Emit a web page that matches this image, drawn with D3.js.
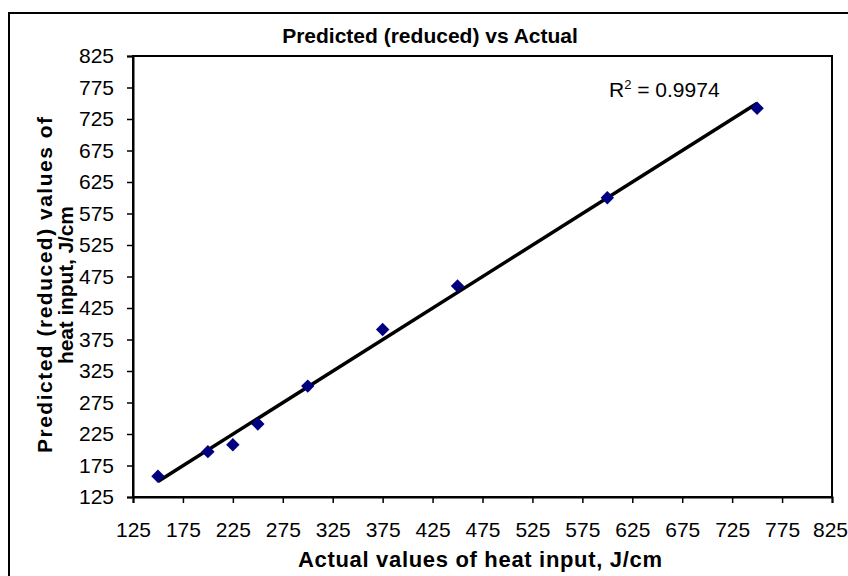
<!DOCTYPE html>
<html>
<head>
<meta charset="utf-8">
<script src="https://cdn.jsdelivr.net/npm/d3@7"></script>
<style>
  body { margin: 0; background: #fff; }
  text { font-family: Arial, "Liberation Sans", sans-serif; fill: #000; }
</style>
</head>
<body>
<div class="canvas"></div>
<script>
const width = 848;
const height = 576;

// Data
const actual = [150, 200, 225, 250, 300, 375, 450, 600, 750];
const predicted = [158, 197, 208, 241, 301, 391, 460, 600, 742];
const tickValues = d3.range(125, 826, 50);
const titleText = 'Predicted (reduced) vs Actual';
const xLabel = 'Actual values of heat input, J/cm';
const yLabel = ['Predicted (reduced) values of', 'heat input, J/cm'];
const r2Text = '0.9974';

const plot = { left: 133, right: 832, top: 56, bottom: 497 };

const svg = d3
  .select('.canvas')
  .append('svg')
  .attr('width', width)
  .attr('height', height);

// Outer chart border
svg
  .append('rect')
  .attr('x', 9)
  .attr('y', 13)
  .attr('width', width)
  .attr('height', height)
  .style('fill', 'none')
  .style('stroke', 'black')
  .style('stroke-width', '2px');

// Scales
const xScale = d3.scaleLinear().domain([125, 825]).range([plot.left, plot.right]);
const yScale = d3.scaleLinear().domain([125, 825]).range([plot.bottom, plot.top]);

// Plot border
svg
  .append('rect')
  .attr('x', plot.left)
  .attr('y', plot.top)
  .attr('width', plot.right - plot.left)
  .attr('height', plot.bottom - plot.top)
  .style('fill', 'none')
  .style('stroke', 'black')
  .style('stroke-width', '2px');

const xAxis = d3.axisBottom(xScale).tickValues(tickValues).tickSize(6);
const yAxis = d3.axisLeft(yScale).tickValues(tickValues).tickSize(6).tickPadding(13);

const xAxisG = svg
  .append('g')
  .attr('transform', `translate(0,${plot.bottom})`)
  .call(xAxis);

const yAxisG = svg
  .append('g')
  .attr('transform', `translate(${plot.left},0)`)
  .call(yAxis);

[xAxisG, yAxisG].forEach((g) => {
  g.select('path.domain').style('stroke-width', '2px');
  g.selectAll('.tick line').style('stroke-width', '1.5px');
  g.selectAll('.tick text')
    .style('font-family', 'Arial, "Liberation Sans", sans-serif')
    .style('font-size', '21px')
    .style('fill', '#000');
});
xAxisG
  .selectAll('.tick text')
  .attr('y', 39.5)
  .attr('dy', 0)
  // keep the last label inside the window
  .attr('x', (d) => (d === 825 ? -2 : 0));

// Linear trend line (least squares)
const n = actual.length;
const mx = d3.mean(actual);
const my = d3.mean(predicted);
let sxy = 0;
let sxx = 0;
for (let i = 0; i < n; i++) {
  sxy += (actual[i] - mx) * (predicted[i] - my);
  sxx += (actual[i] - mx) * (actual[i] - mx);
}
const slope = sxy / sxx;
const intercept = my - slope * mx;
const xExtent = d3.extent(actual);

svg
  .append('line')
  .attr('x1', xScale(xExtent[0]))
  .attr('y1', yScale(slope * xExtent[0] + intercept))
  .attr('x2', xScale(xExtent[1]))
  .attr('y2', yScale(slope * xExtent[1] + intercept))
  .style('stroke', 'black')
  .style('stroke-width', '3.5px');

// Points (diamonds)
svg
  .selectAll('path.point')
  .data(actual.map((a, i) => ({ a, p: predicted[i] })))
  .enter()
  .append('path')
  .attr('class', 'point')
  .attr('d', d3.symbol().type(d3.symbolSquare).size(90))
  .attr('transform', (d) => `translate(${xScale(d.a)},${yScale(d.p)}) rotate(45)`)
  .style('fill', '#000080');

// R squared label
const r2 = svg
  .append('text')
  .attr('x', 609)
  .attr('y', 97)
  .style('font-size', '21px');
r2.append('tspan').text('R');
r2.append('tspan').attr('dy', -8).style('font-size', '13px').text('2');
r2.append('tspan').attr('dy', 8).text(' = ' + r2Text);

// Title
svg
  .append('text')
  .attr('x', 430)
  .attr('y', 43)
  .attr('text-anchor', 'middle')
  .style('font-size', '21px')
  .style('font-weight', 'bold')
  .text(titleText);

// X label
svg
  .append('text')
  .attr('x', 480)
  .attr('y', 567)
  .attr('text-anchor', 'middle')
  .attr('textLength', 364)
  .attr('lengthAdjust', 'spacing')
  .style('font-size', '22px')
  .style('font-weight', 'bold')
  .text(xLabel);

// Y label (two lines)
const yLabelLengths = [336, 158];
svg
  .append('g')
  .attr('transform', 'translate(0,285) rotate(-90)')
  .selectAll('text')
  .data(yLabel)
  .enter()
  .append('text')
  .attr('x', 0)
  .attr('y', (d, i) => 52 + i * 21)
  .attr('text-anchor', 'middle')
  .attr('textLength', (d, i) => yLabelLengths[i])
  .attr('lengthAdjust', 'spacing')
  .style('font-size', '21px')
  .style('font-weight', 'bold')
  .text((d) => d);
</script>
</body>
</html>
